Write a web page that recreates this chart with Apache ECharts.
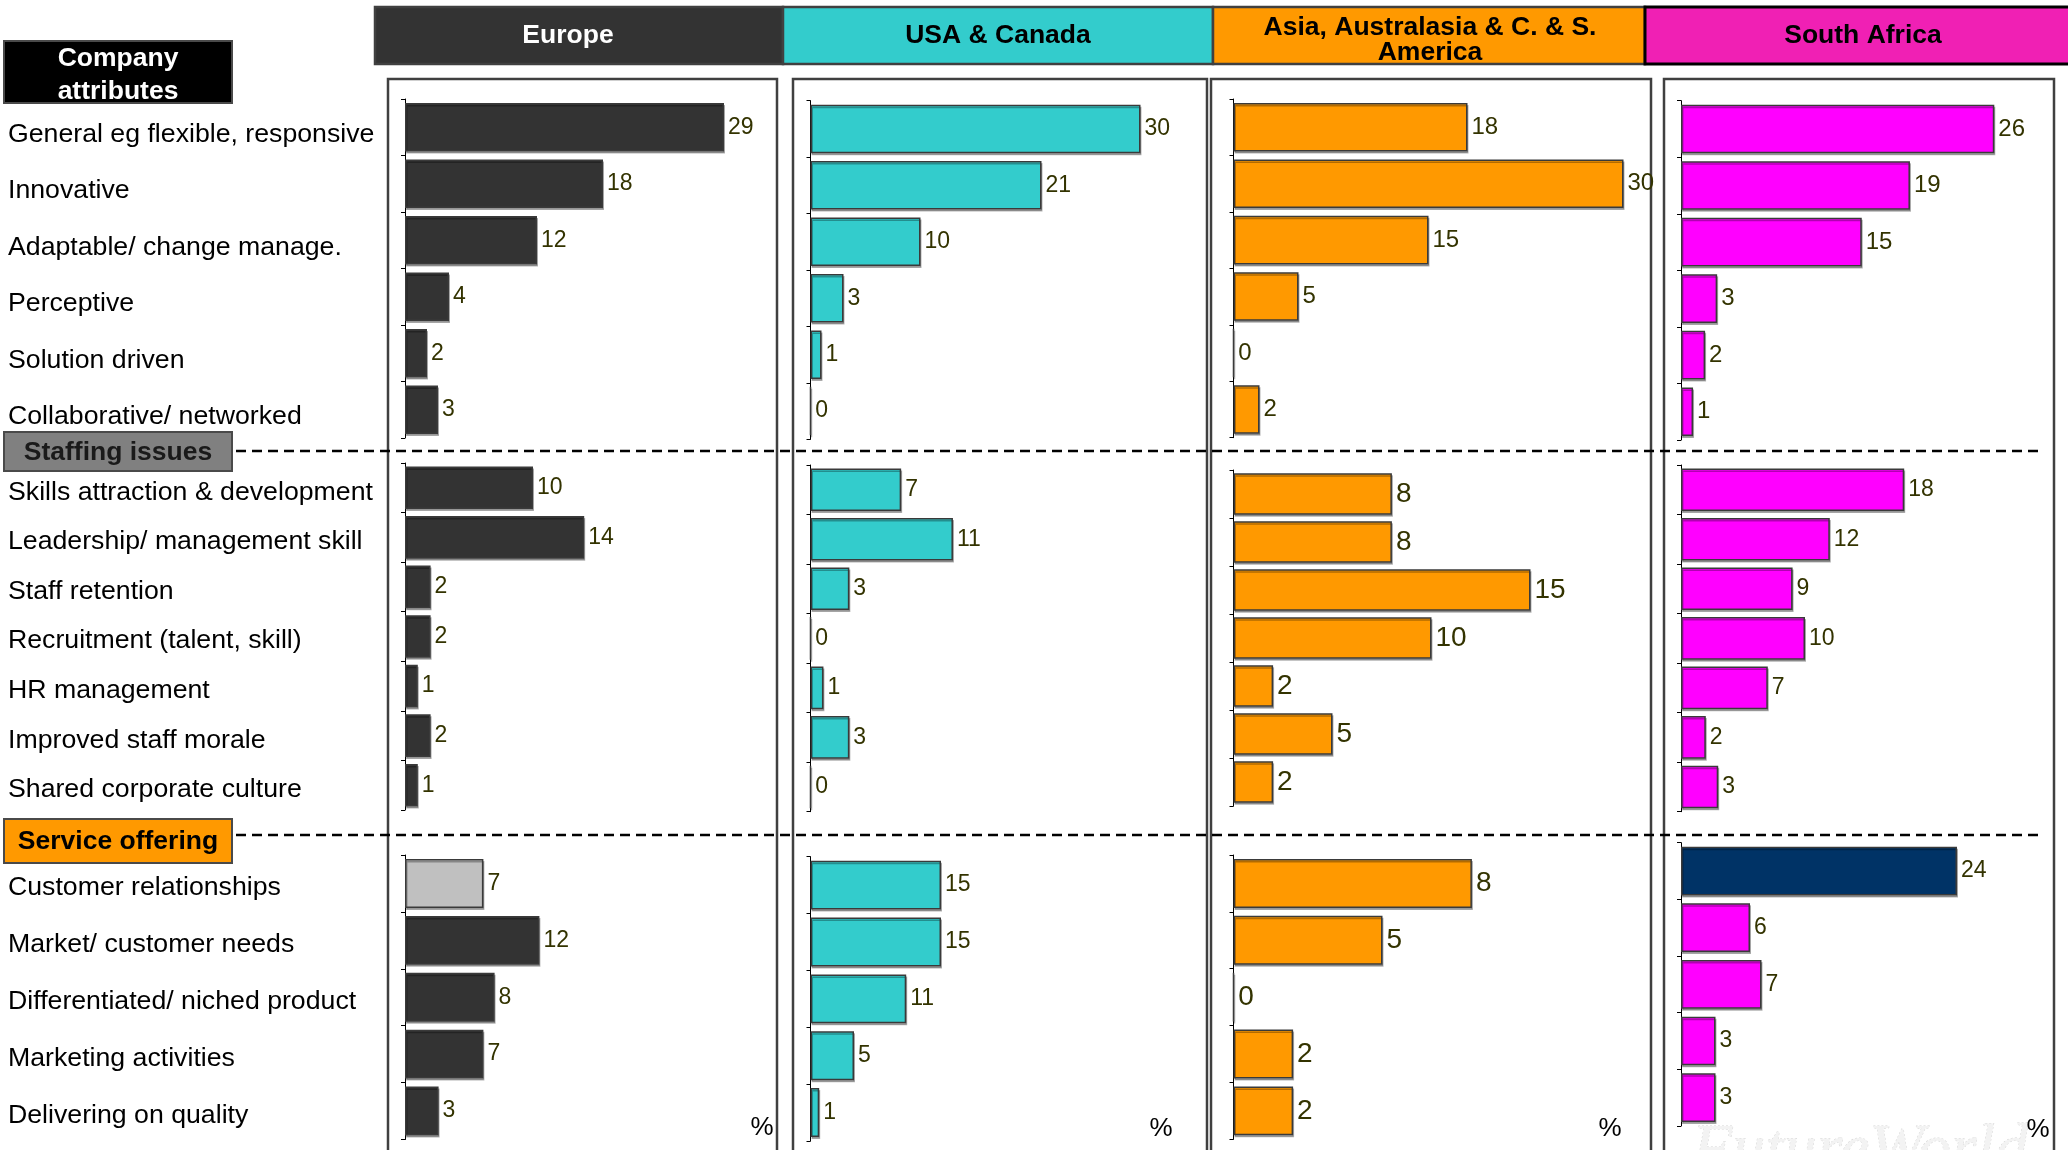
<!DOCTYPE html>
<html><head><meta charset="utf-8">
<script src="https://cdn.jsdelivr.net/npm/echarts@6/dist/echarts.min.js"></script>
<style>html,body{margin:0;padding:0;background:#fff}#c{width:2068px;height:1150px}</style>
</head><body><div id="c"></div>
<script>
// ---------- DATA ----------
const regions = ['Europe', 'USA & Canada', 'Asia, Australasia & C. & S.\nAmerica', 'South Africa'];
const sectionTitles = ['Company\nattributes', 'Staffing issues', 'Service offering'];

const companyCats = ['General eg flexible, responsive', 'Innovative', 'Adaptable/ change manage.', 'Perceptive', 'Solution driven', 'Collaborative/ networked'];
const staffingCats = ['Skills attraction & development', 'Leadership/ management skill', 'Staff retention', 'Recruitment (talent, skill)', 'HR management', 'Improved staff morale', 'Shared corporate culture'];
const serviceCats = ['Customer relationships', 'Market/ customer needs', 'Differentiated/ niched product', 'Marketing activities', 'Delivering on quality'];

const europeCompany = [29, 18, 12, 4, 2, 3];
const europeStaffing = [10, 14, 2, 2, 1, 2, 1];
const europeService = [7, 12, 8, 7, 3];

const usaCompany = [30, 21, 10, 3, 1, 0];
const usaStaffing = [7, 11, 3, 0, 1, 3, 0];
const usaService = [15, 15, 11, 5, 1];

const asiaCompany = [18, 30, 15, 5, 0, 2];
const asiaStaffing = [8, 8, 15, 10, 2, 5, 2];
const asiaService = [8, 5, 0, 2, 2];

const saCompany = [26, 19, 15, 3, 2, 1];
const saStaffing = [18, 12, 9, 10, 7, 2, 3];
const saService = [24, 6, 7, 3, 3];

const unitLabel = '%';
const watermark = 'FutureWorld';

// ---------- LAYOUT / STYLE ----------
const FONT = '"Liberation Sans", Arial, Helvetica, sans-serif';
const regionColors = ['#333333', '#33CCCC', '#FF9900', '#FF00FF'];
const headerFill = ['#333333', '#33CCCC', '#FF9900', '#F020B4'];
const headerText = ['#FFFFFF', '#000000', '#000000', '#000000'];
const sectionCats = [companyCats, staffingCats, serviceCats];
const values = [
  [europeCompany, europeStaffing, europeService],
  [usaCompany, usaStaffing, usaService],
  [asiaCompany, asiaStaffing, asiaService],
  [saCompany, saStaffing, saService]
];
// special-coloured bars: [region, section, index, color]
const specialBars = [[0, 2, 0, '#C0C0C0'], [3, 2, 0, '#003366']];

const axisX = [405, 810.5, 1233.5, 1681];
// per region, per section: [top, height, px per unit, label font size]
const gridLayout = [
  [[99, 339, 11.0, 23], [463, 347, 12.8, 23], [855, 284.5, 11.2, 23]],
  [[100.7, 338.6, 11.0, 23], [465, 346.7, 12.95, 23], [856.7, 284.3, 8.7, 23]],
  [[99, 338.7, 13.0, 24], [470, 336, 19.8, 28], [855, 284.3, 29.8, 28]],
  [[100.7, 339.3, 12.05, 24], [465, 346.7, 12.4, 23], [842.7, 283.3, 11.5, 23]]
];
// category-label line heights (text is top-anchored at the band centre)
const labelLineH = [14, 9, 9];
const panels = [[388, 389], [793, 414], [1211, 440], [1664, 390]];
const headers = [[375, 408], [783, 430], [1213, 432], [1645, 440]];
const headerTextX = [568, 998, 1430, 1863];
const pctPos = [[762, 1128], [1161, 1129], [1610, 1129], [2038, 1130]];

const grids = [], xAxes = [], yAxes = [], series = [];
let gi = 0;
for (let r = 0; r < 4; r++) {
  for (let s = 0; s < 3; s++) {
    const [top, height, unit, lsize] = gridLayout[r][s];
    const vals = values[r][s];
    const xMax = Math.max(...vals) + 4;
    grids.push({left: axisX[r], top: top, height: height, width: unit * xMax, containLabel: false});
    xAxes.push({type: 'value', gridIndex: gi, min: 0, max: xMax, show: false});
    yAxes.push({
      type: 'category', gridIndex: gi, data: sectionCats[s], inverse: true,
      axisLine: {show: true, lineStyle: {color: '#000', width: 1}},
      axisTick: {show: true, length: 4, lineStyle: {color: '#000', width: 1}},
      splitLine: {show: false},
      axisLabel: r === 0 ? {
        show: true, interval: 0, align: 'left', margin: axisX[0] - 8,
        verticalAlign: 'top', lineHeight: labelLineH[s],
        fontSize: 26.7, color: '#000', fontFamily: FONT
      } : {show: false}
    });
    const data = vals.map((v, i) => {
      const sp = specialBars.find(b => b[0] === r && b[1] === s && b[2] === i);
      return sp ? {value: v, itemStyle: {color: sp[3]}} : v;
    });
    series.push({
      type: 'bar', xAxisIndex: gi, yAxisIndex: gi, data: data,
      barCategoryGap: '14%', z: 3,
      itemStyle: {
        color: regionColors[r], borderColor: '#3a3a3a', borderWidth: 1.5,
        shadowColor: 'rgba(0,0,0,0.3)', shadowOffsetX: 1, shadowOffsetY: 2, shadowBlur: 0
      },
      label: {
        show: true, position: 'right', distance: 4, formatter: '{c}',
        color: '#333300', fontSize: lsize, fontFamily: FONT
      },
      emphasis: {disabled: true},
      animation: false
    });
    gi++;
  }
}

const graphics = [];
// watermark
graphics.push({type: 'text', z: 0, style: {
  text: watermark, x: 1692, y: 1185, align: 'left', verticalAlign: 'bottom',
  font: 'italic 66px "Liberation Serif", "DejaVu Serif", serif',
  fill: '#F3F3F3', stroke: '#D6D6D6', lineWidth: 1, lineDash: [2, 2]
}});
// panel boxes
panels.forEach(p => graphics.push({type: 'rect', z: 1,
  shape: {x: p[0], y: 79, width: p[1], height: 1100},
  style: {fill: 'none', stroke: '#404040', lineWidth: 2.5}}));
// headers
headers.forEach((h, r) => {
  graphics.push({type: 'rect', z: 1, shape: {x: h[0], y: 7, width: h[1], height: 57},
    style: {fill: headerFill[r], stroke: r === 3 ? '#000' : '#404040', lineWidth: r === 3 ? 3 : 2.5}});
  graphics.push({type: 'text', z: 2, style: {
    text: regions[r], x: headerTextX[r], y: r === 2 ? 40.5 : 35.5,
    align: 'center', verticalAlign: 'middle', lineHeight: 25,
    font: 'bold 26.5px ' + FONT, fill: headerText[r]}});
});
// section label boxes
const secBoxes = [[41, 62, '#000000', '#FFFFFF'], [432, 39, '#808080', '#1A1A1A'], [819, 44, '#FF9900', '#000000']];
secBoxes.forEach((b, s) => {
  graphics.push({type: 'rect', z: 1, shape: {x: 4, y: b[0], width: 228, height: b[1]},
    style: {fill: b[2], stroke: '#4a4a4a', lineWidth: 2}});
  graphics.push({type: 'text', z: 2, style: {
    text: sectionTitles[s], x: 118, y: b[0] + b[1] / 2 + (s === 0 ? 3 : 1),
    align: 'center', verticalAlign: 'middle', lineHeight: 33,
    font: 'bold 26.5px ' + FONT, fill: b[3]}});
});
// dashed separators
[451, 835].forEach(y => graphics.push({type: 'line', z: 4,
  shape: {x1: 236, y1: y, x2: 2040, y2: y},
  style: {stroke: '#000', lineWidth: 2.5, lineDash: [10, 6]}}));
// % labels
pctPos.forEach(p => graphics.push({type: 'text', z: 2, style: {
  text: unitLabel, x: p[0], y: p[1], align: 'center', verticalAlign: 'middle',
  font: '26px ' + FONT, fill: '#000'}}));

const chart = echarts.init(document.getElementById('c'), null, {renderer: 'canvas'});
chart.setOption({
  animation: false,
  backgroundColor: '#FFFFFF',
  grid: grids, xAxis: xAxes, yAxis: yAxes, series: series,
  graphic: {elements: graphics}
});
</script></body></html>
